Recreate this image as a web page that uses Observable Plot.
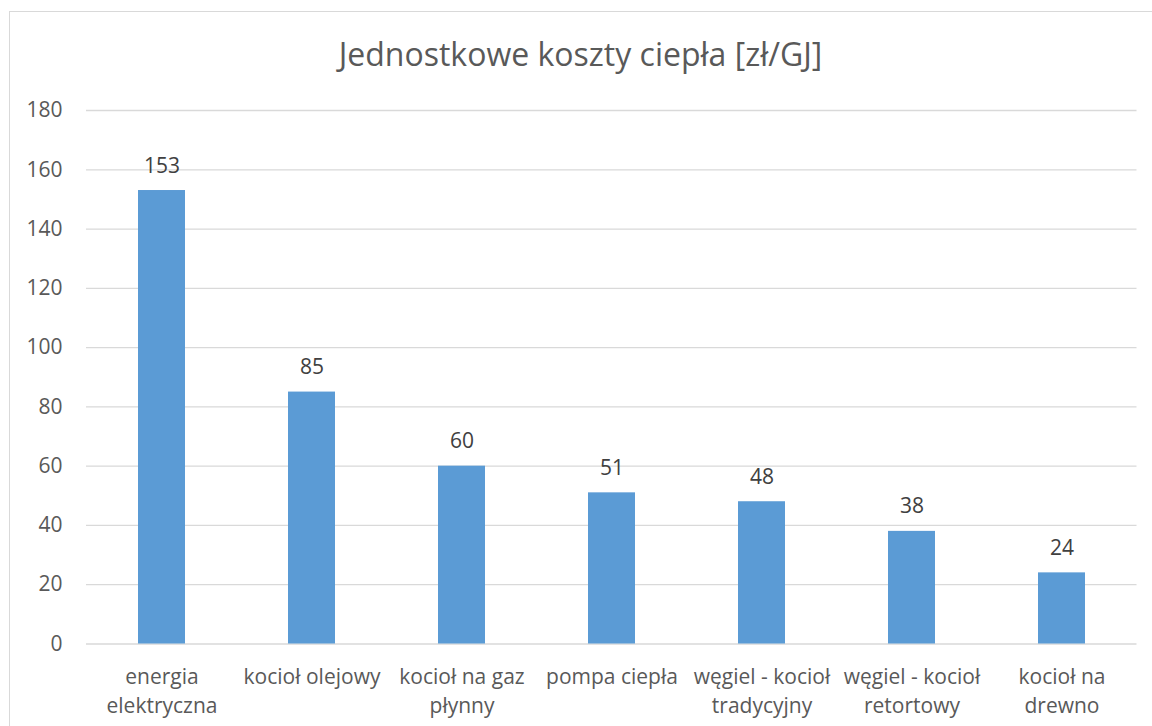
<!DOCTYPE html>
<html>
<head>
<meta charset="utf-8">
<script src="https://cdn.jsdelivr.net/npm/d3@7"></script>
<script src="https://cdn.jsdelivr.net/npm/@observablehq/plot@0.6"></script>
<style>
  html, body { margin: 0; padding: 0; background: #fff; }
  #wrap { position: relative; width: 1152px; height: 726px; overflow: hidden; font-family: "Open Sans", sans-serif; }
  #frame { position: absolute; left: 9px; top: 11px; width: 1200px; height: 800px; border-left: 1px solid #d9d9d9; border-top: 1px solid #d9d9d9; }
  #title { position: absolute; left: 9px; width: 1143px; top: 34px; text-align: center; font-size: 32px; line-height: 40px; color: #595959; }
  #chart { position: absolute; left: 0; top: 0; }
</style>
</head>
<body>
<div id="wrap">
  <div id="frame"></div>
  <div id="title">Jednostkowe koszty ciepła [zł/GJ]</div>
  <div id="chart"></div>
</div>
<script>
const categories = ["energia elektryczna", "kocioł olejowy", "kocioł na gaz płynny", "pompa ciepła", "węgiel - kocioł tradycyjny", "węgiel - kocioł retortowy", "kocioł na drewno"];
const tickLabels = ["energia\nelektryczna", "kocioł olejowy", "kocioł na gaz\npłynny", "pompa ciepła", "węgiel - kocioł\ntradycyjny", "węgiel - kocioł\nretortowy", "kocioł na\ndrewno"];
const values = [153, 85, 60, 51, 48, 38, 24];
const yTicks = [0, 20, 40, 60, 80, 100, 120, 140, 160, 180];

const data = categories.map((c, i) => ({category: c, value: values[i]}));
const labelOf = new Map(categories.map((c, i) => [c, tickLabels[i]]));

const chart = Plot.plot({
  width: 1152,
  height: 726,
  marginTop: 110,
  marginBottom: 82.5,
  marginLeft: 86,
  marginRight: 15.5,
  style: {fontFamily: "'Open Sans', sans-serif", background: "transparent", overflow: "visible"},
  x: {domain: categories, paddingInner: 0.687, paddingOuter: 0.3435, align: 0.5},
  y: {domain: [0, 180]},
  marks: [
    Plot.gridY(yTicks, {stroke: "#d9d9d9", strokeOpacity: 1, strokeWidth: 1.3}),
    Plot.barY(data, {x: "category", y: "value", fill: "#5b9bd5"}),
    Plot.text(data, {x: "category", y: "value", text: d => String(d.value), lineAnchor: "bottom", dy: -18, fontSize: 21, fill: "#404040"}),
    Plot.axisY({ticks: yTicks, tickSize: 0, tickPadding: 24, fontSize: 21, color: "#595959", label: null}),
    Plot.axisX({tickSize: 0, tickPadding: 19, fontSize: 21, color: "#595959", label: null, lineHeight: 1.4, tickFormat: d => labelOf.get(d)})
  ]
});
document.getElementById("chart").appendChild(chart);
</script>
</body>
</html>
